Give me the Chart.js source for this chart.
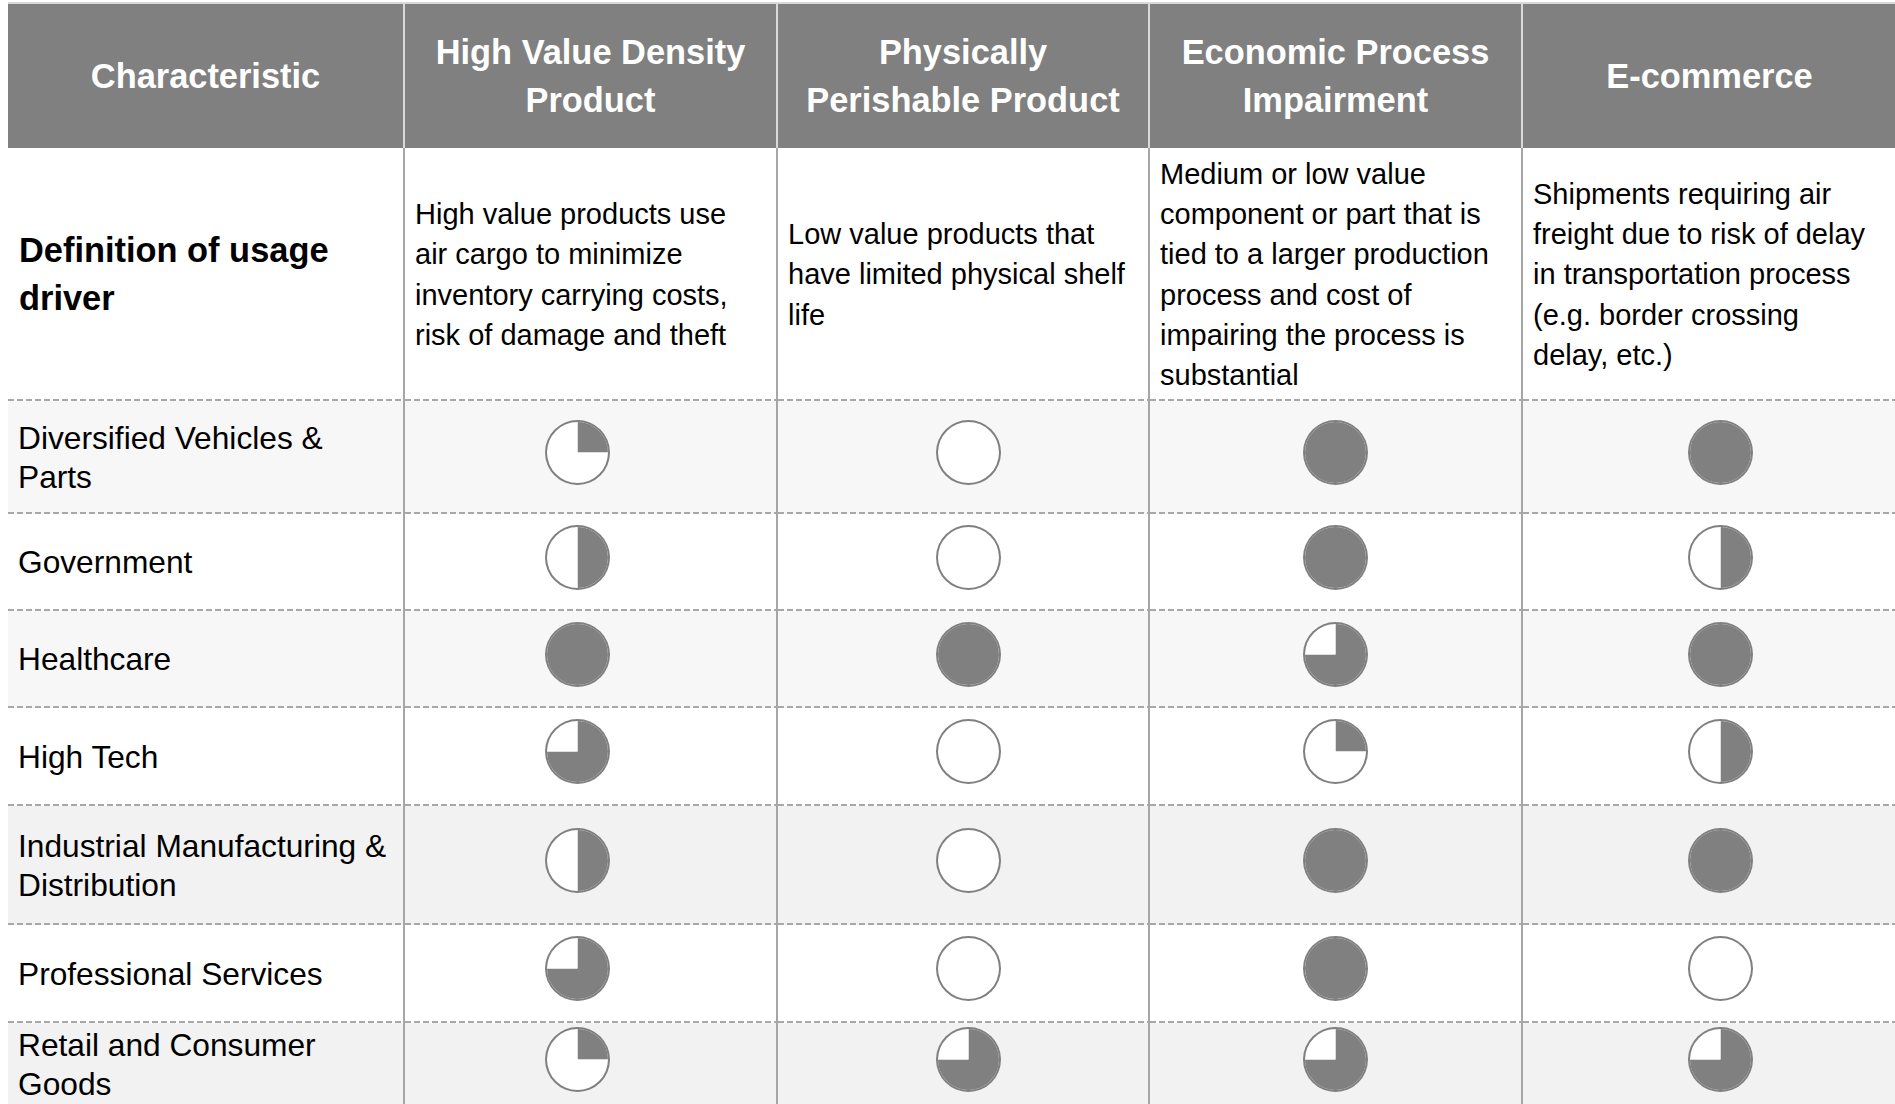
<!DOCTYPE html>
<html>
<head>
<meta charset="utf-8">
<script src="https://cdn.jsdelivr.net/npm/chart.js@4.4.1/dist/chart.umd.min.js"></script>
<style>
	* {
		box-sizing: border-box;
	}
	body {
		margin: 0;
		background: #fff;
		overflow: hidden;
	}
	#drivers {
		position: absolute;
		left: 8px;
		top: 2px;
		width: 1888px;
		table-layout: fixed;
		border-collapse: separate;
		border-spacing: 0;
	}
	th {
		background: #808080;
		color: #fff;
		font: bold 34.4px/48px "Liberation Sans", Arial, sans-serif;
		text-align: center;
		vertical-align: middle;
		white-space: pre;
		padding: 0 2px;
		border-top: 2px solid #d9d9d9;
		border-right: 2px solid #d9d9d9;
	}
	td {
		font: 29px/40.3px "Liberation Sans", Arial, sans-serif;
		color: #000;
		vertical-align: middle;
		white-space: pre;
		padding: 0 10px;
		border-right: 2px solid #a6a6a6;
		background-image: linear-gradient(to right, #a8a8a8 6px, transparent 6px);
		background-size: 9px 2px;
		background-repeat: repeat-x;
		background-position: left bottom;
	}
	th:last-child,
	td:last-child {
		border-right: none;
	}
	td.label {
		font-size: 31.7px;
		line-height: 38.7px;
		padding-left: 10px;
	}
	td.lead {
		font: bold 34.4px/47.5px "Liberation Sans", Arial, sans-serif;
		padding-left: 11px;
	}
	td.ball {
		text-align: center;
	}
	td.ball:nth-child(2) { padding: 0 37px 0 10px; }
	td.ball:nth-child(3) { padding: 0 5px 0 15px; }
	td.ball:nth-child(4) { padding: 0 10px 0 10px; }
	td.ball:nth-child(5) { padding: 0 5px 0 26px; }
	tbody tr:nth-child(2),
	tbody tr:nth-child(4) { background: #f7f7f7; }
	tbody tr:nth-child(6),
	tbody tr:nth-child(8) { background: #f2f2f2; }
	tbody tr:last-child td { background-image: none; }
</style>
</head>
<body>
<table id="drivers">
	<thead><tr id="head"></tr></thead>
	<tbody id="rows"></tbody>
</table>

<script>
	// scale of a full Harvey ball, in quarters
	const FULL = 4;

	const headers = [
		"Characteristic",
		"High Value Density\nProduct",
		"Physically\nPerishable Product",
		"Economic Process\nImpairment",
		"E-commerce",
	];

	const definitionLabel = "Definition of usage\ndriver";
	const definitions = [
		"High value products use\nair cargo to minimize\ninventory carrying costs,\nrisk of damage and theft",
		"Low value products that\nhave limited physical shelf\nlife",
		"Medium or low value\ncomponent or part that is\ntied to a larger production\nprocess and cost of\nimpairing the process is\nsubstantial",
		"Shipments requiring air\nfreight due to risk of delay\nin transportation process\n(e.g. border crossing\ndelay, etc.)",
	];

	const industries = [
		"Diversified Vehicles &\nParts",
		"Government",
		"Healthcare",
		"High Tech",
		"Industrial Manufacturing &\nDistribution",
		"Professional Services",
		"Retail and Consumer\nGoods",
	];

	// filled quarters per industry
	const highValueDensity = [1, 2, 4, 3, 2, 3, 1];
	const physicallyPerishable = [0, 0, 4, 0, 0, 0, 3];
	const economicImpairment = [4, 4, 3, 1, 4, 4, 3];
	const eCommerce = [4, 2, 4, 2, 4, 0, 3];

	// layout only
	const colWidths = [397, 373, 372, 373, 373];
	const headerHeight = 146;
	const definitionHeight = 253;
	const rowHeights = [113, 97, 97, 98, 119, 98, 84];

	const columns = [highValueDensity, physicallyPerishable, economicImpairment, eCommerce];
	const head = document.getElementById("head");
	const body = document.getElementById("rows");
	const pending = [];

	headers.forEach((text, i) => {
		const th = document.createElement("th");
		th.textContent = text;
		th.style.width = colWidths[i] + "px";
		th.style.height = headerHeight + "px";
		head.appendChild(th);
	});

	(function definitionRow() {
		const tr = document.createElement("tr");
		const lead = document.createElement("td");
		lead.className = "lead";
		lead.textContent = definitionLabel;
		lead.style.height = definitionHeight + "px";
		tr.appendChild(lead);
		definitions.forEach((text) => {
			const td = document.createElement("td");
			td.textContent = text;
			tr.appendChild(td);
		});
		body.appendChild(tr);
	})();

	industries.forEach((name, i) => {
		const tr = document.createElement("tr");
		const label = document.createElement("td");
		label.className = "label";
		label.textContent = name;
		label.style.height = rowHeights[i] + "px";
		tr.appendChild(label);

		columns.forEach((values) => {
			const td = document.createElement("td");
			td.className = "ball";
			const canvas = document.createElement("canvas");
			canvas.width = 65;
			canvas.height = 65;
			canvas.style.display = "inline-block";
			td.appendChild(canvas);
			tr.appendChild(td);
			pending.push([canvas, values[i]]);
		});
		body.appendChild(tr);
	});

	// outer thin ring is the outline, inner pie is the filled share
	function harveyBall(canvas, quarters) {
		return new Chart(canvas, {
			type: "doughnut",
			data: {
				labels: ["filled", "open"],
				datasets: [
					{
						data: [FULL],
						backgroundColor: ["#808080"],
						borderWidth: 0,
						weight: 2,
					},
					{
						data: [quarters, FULL - quarters],
						backgroundColor: ["#808080", "#ffffff"],
						borderWidth: 0,
						weight: 30.5,
					},
				],
			},
			options: {
				cutout: 0,
				responsive: false,
				animation: false,
				events: [],
				plugins: {
					legend: { display: false },
					tooltip: { enabled: false },
				},
			},
		});
	}

	pending.forEach(([canvas, quarters]) => harveyBall(canvas, quarters));
</script>
</body>
</html>
